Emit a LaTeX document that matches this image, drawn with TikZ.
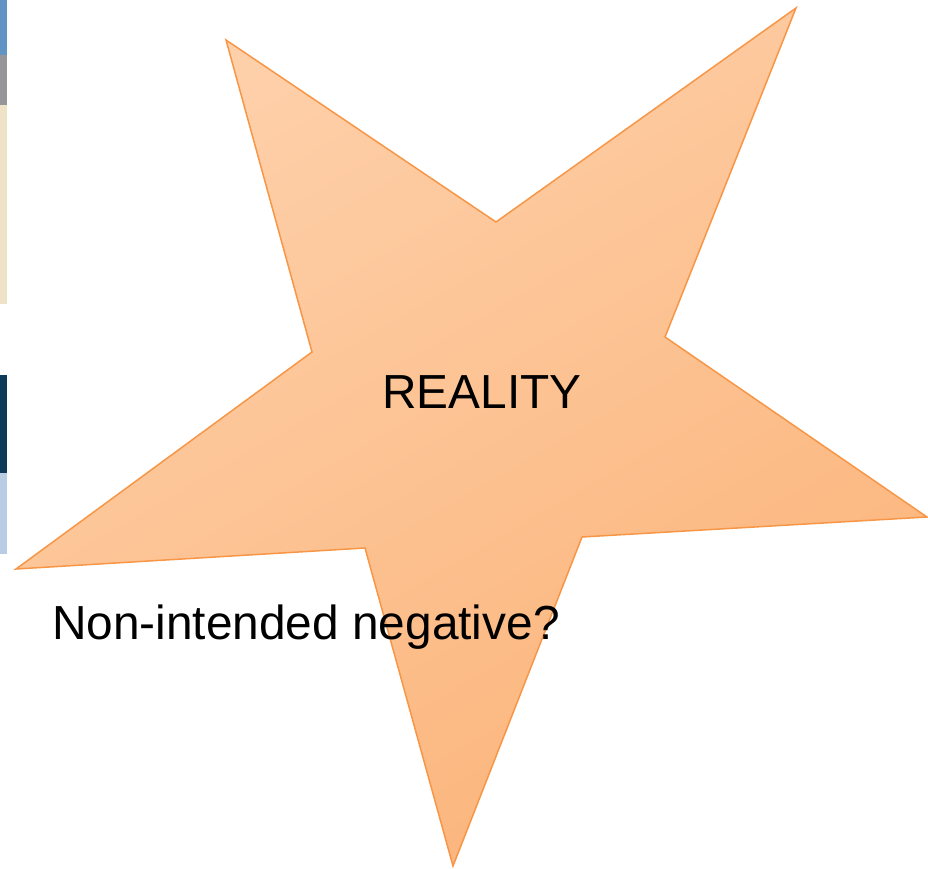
\documentclass[tikz,border=0pt]{standalone}
\usepackage{fontspec}
\setmainfont{Liberation Sans}
\definecolor{stripblue}{RGB}{96,148,196}
\definecolor{stripgray}{RGB}{150,150,154}
\definecolor{stripbeige}{RGB}{238,227,198}
\definecolor{stripnavy}{RGB}{14,58,90}
\definecolor{stripltblue}{RGB}{184,204,228}
\definecolor{starfillA}{RGB}{254,208,170}
\definecolor{starfillB}{RGB}{251,180,122}
\definecolor{starline}{RGB}{247,150,70}
\tikzset{
  strip/.style={draw=none},
  bigtext/.style={font=\fontsize{47.8}{52}\selectfont, inner sep=0pt, text=black},
}
\begin{document}
\begin{tikzpicture}[x=1pt,y=-1pt]
\useasboundingbox (0,0) rectangle (928,869);
% left strips
\fill[stripblue] (0,0) rectangle (7,55);
\fill[stripgray] (0,55) rectangle (7,105);
\fill[stripbeige] (0,105) rectangle (7,304);
\fill[stripnavy] (0,375) rectangle (7,473);
\fill[stripltblue] (0,473) rectangle (7,554);
% star points
\coordinate (tl) at (226,40);
\coordinate (it) at (496,222);
\coordinate (tr) at (796,8);
\coordinate (ir) at (665,337);
\coordinate (rt) at (927,517);
\coordinate (irb) at (582,537);
\coordinate (bt) at (453,866);
\coordinate (ibl) at (365,548);
\coordinate (lt) at (16,569);
\coordinate (il) at (312,352);
% shadow
\fill[black, opacity=0.12, shift={(2,3)}] (tl) -- (it) -- (tr) -- (ir) -- (rt) -- (irb) -- (bt) -- (ibl) -- (lt) -- (il) -- cycle;
% star
\shade[top color=starfillA, bottom color=starfillB, shading angle=30]
  (tl) -- (it) -- (tr) -- (ir) -- (rt) -- (irb) -- (bt) -- (ibl) -- (lt) -- (il) -- cycle;
\draw[starline, line width=1.5pt, line join=miter]
  (tl) -- (it) -- (tr) -- (ir) -- (rt) -- (irb) -- (bt) -- (ibl) -- (lt) -- (il) -- cycle;
% texts
\node[bigtext, anchor=base] (reality) at (482,408) {REALITY};
\node[bigtext, anchor=base west] (neg) at (52,639) {Non-intended negative?};
\end{tikzpicture}
\end{document}
